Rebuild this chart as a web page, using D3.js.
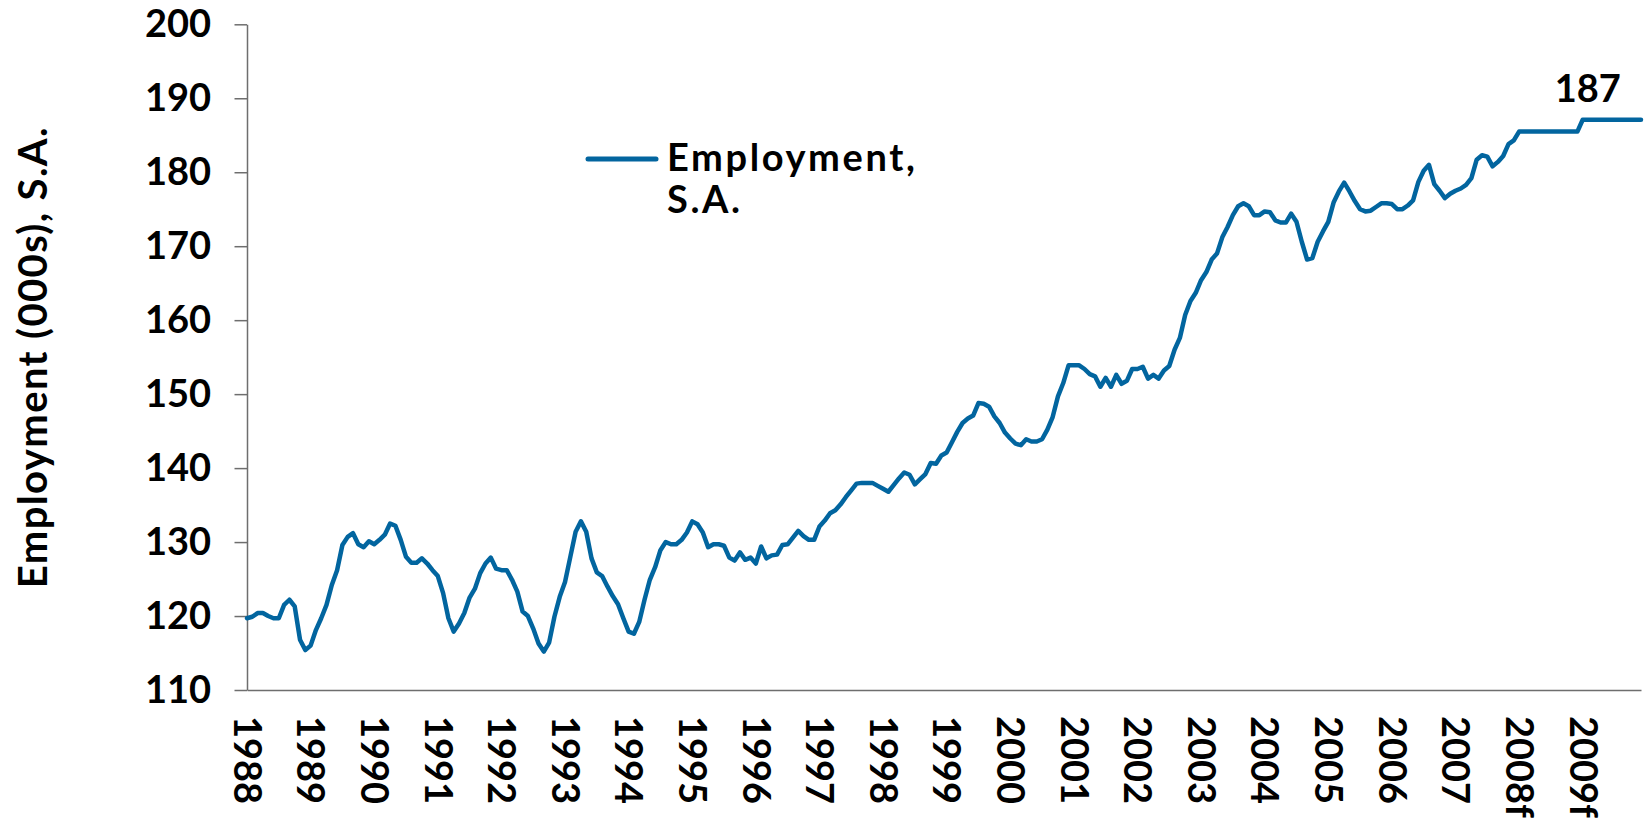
<!DOCTYPE html>
<html>
<head>
<meta charset="utf-8">
<script src="https://cdn.jsdelivr.net/npm/d3@7"></script>
<style>
    html, body { margin: 0; padding: 0; background: #fff; }
    svg { display: block; }
</style>
</head>
<body>
<div id="chart"></div>
<script>
// Monthly employment, seasonally adjusted (000s), Jan 1988 .. Dec 2009 (2008-2009 forecast)
const employment = [
    // 1988
    119.7, 119.9, 120.4, 120.4, 120.0, 119.7, 119.7, 121.5, 122.2, 121.3, 116.8, 115.4,
    // 1989
    116.0, 118.1, 119.7, 121.5, 124.2, 126.2, 129.6, 130.7, 131.2, 129.7, 129.3, 130.1,
    // 1990
    129.7, 130.3, 131.0, 132.5, 132.2, 130.3, 128.0, 127.2, 127.2, 127.8, 127.1, 126.2,
    // 1991
    125.4, 123.1, 119.7, 117.9, 119.0, 120.4, 122.5, 123.7, 125.8, 127.1, 127.9, 126.4,
    // 1992
    126.2, 126.2, 124.9, 123.3, 120.6, 120.0, 118.3, 116.3, 115.2, 116.4, 119.9, 122.6,
    // 1993
    124.6, 128.0, 131.4, 132.8, 131.4, 127.8, 125.9, 125.4, 124.0, 122.7, 121.6, 119.7,
    // 1994
    117.9, 117.6, 119.2, 122.2, 124.9, 126.6, 128.9, 130.0, 129.7, 129.7, 130.3, 131.3,
    // 1995
    132.8, 132.4, 131.3, 129.3, 129.7, 129.7, 129.5, 127.9, 127.5, 128.6, 127.6, 127.9,
    // 1996
    127.1, 129.4, 127.8, 128.2, 128.3, 129.6, 129.7, 130.6, 131.5, 130.8, 130.3, 130.3,
    // 1997
    132.1, 132.9, 133.9, 134.3, 135.1, 136.1, 137.0, 137.9, 138.0, 138.0, 138.0, 137.6,
    // 1998
    137.2, 136.8, 137.7, 138.6, 139.4, 139.1, 137.8, 138.5, 139.2, 140.7, 140.6, 141.7,
    // 1999
    142.1, 143.5, 144.9, 146.1, 146.7, 147.1, 148.8, 148.7, 148.3, 147.0, 146.1, 144.8,
    // 2000
    144.0, 143.3, 143.1, 143.9, 143.6, 143.6, 143.9, 145.2, 146.9, 149.7, 151.5, 153.9,
    // 2001
    153.9, 153.9, 153.4, 152.7, 152.4, 151.0, 152.2, 151.0, 152.6, 151.4, 151.8, 153.4,
    // 2002
    153.4, 153.7, 152.1, 152.6, 152.1, 153.2, 153.8, 156.0, 157.6, 160.7, 162.6, 163.7,
    // 2003
    165.4, 166.5, 168.2, 169.0, 171.2, 172.6, 174.2, 175.4, 175.8, 175.4, 174.2, 174.2,
    // 2004
    174.7, 174.6, 173.5, 173.2, 173.2, 174.4, 173.3, 170.6, 168.2, 168.4, 170.6, 172.0,
    // 2005
    173.3, 175.9, 177.4, 178.6, 177.4, 176.1, 175.0, 174.7, 174.8, 175.3, 175.8, 175.8,
    // 2006
    175.7, 175.0, 175.0, 175.5, 176.2, 178.7, 180.2, 181.0, 178.4, 177.5, 176.5, 177.1,
    // 2007
    177.5, 177.8, 178.3, 179.2, 181.7, 182.3, 182.1, 180.8, 181.4, 182.2, 183.8, 184.3,
    // 2008f
    185.5, 185.5, 185.5, 185.5, 185.5, 185.5, 185.5, 185.5, 185.5, 185.5, 185.5, 185.5,
    // 2009f
    187.1, 187.1, 187.1, 187.1, 187.1, 187.1, 187.1, 187.1, 187.1, 187.1, 187.1, 187.1
];

const yearLabels = ["1988", "1989", "1990", "1991", "1992", "1993", "1994", "1995",
    "1996", "1997", "1998", "1999", "2000", "2001", "2002", "2003", "2004", "2005",
    "2006", "2007", "2008f", "2009f"];

const yTicks = [110, 120, 130, 140, 150, 160, 170, 180, 190, 200];

const seriesName = ["Employment,", "S.A."];
const yTitle = "Employment (000s), S.A.";
const endLabel = "187";

function chart_employment(container){
    const font = "Lato, 'Open Sans', sans-serif";
    const lineColor = "#02659f";

    // Declare the chart dimensions and margins.
    const width = 1647;
    const height = 825;
    const marginTop = 24.3;
    const marginRight = 6;
    const marginBottom = 135;
    const marginLeft = 247;

    // Positional encodings: one category per month.
    const x = d3.scaleLinear()
        .domain([0, employment.length - 1])
        .range([marginLeft, width - marginRight]);

    const y = d3.scaleLinear()
        .domain([110, 200])
        .range([height - marginBottom, marginTop]);

    const svg = d3.select(container).append("svg")
        .attr("width", width)
        .attr("height", height)
        .attr("viewBox", [0, 0, width, height]);

    // vertical axis
    svg.append("g")
        .attr("transform", `translate(${marginLeft},0)`)
        .call(d3.axisLeft(y)
            .tickValues(yTicks)
            .tickSize(12.5)
            .tickSizeOuter(0)
            .tickPadding(23.5))
        .call(g => g.selectAll("line, path").attr("stroke", "#6e6e6e").attr("stroke-width", 1.5))
        .call(g => g.selectAll("text")
            .attr("fill", "#000")
            .style("font-family", font)
            .style("font-weight", 700)
            .style("font-size", "38px"));

    // horizontal axis, one label at each January
    const yearIdx = yearLabels.map((d, i) => i * 12);
    svg.append("g")
        .attr("transform", `translate(0,${height - marginBottom})`)
        .call(d3.axisBottom(x)
            .tickValues(yearIdx)
            .tickSize(0)
            .tickSizeOuter(0)
            .tickFormat((d, i) => yearLabels[i]))
        .call(g => g.select(".domain").attr("stroke", "#6e6e6e").attr("stroke-width", 1.5))
        .selectAll("text")
            .attr("fill", "#000")
            .style("font-family", font)
            .style("font-weight", 700)
            .style("font-size", "38px")
            .attr("text-anchor", "start")
            .attr("x", 26)
            .attr("y", 0)
            .attr("dy", "0.36em")
            .attr("transform", "rotate(90)");

    // y title
    svg.append("text")
        .attr("transform", `translate(47,${(marginTop + height - marginBottom) / 2}) rotate(-90)`)
        .attr("text-anchor", "middle")
        .style("font-family", font)
        .style("font-weight", 700)
        .style("font-size", "40px")
        .style("letter-spacing", "1.4px")
        .text(yTitle);

    // the line
    const line = d3.line()
        .x((d, i) => x(i))
        .y(d => y(d));

    svg.append("path")
        .datum(employment)
        .attr("fill", "none")
        .attr("stroke", lineColor)
        .attr("stroke-width", 4.5)
        .attr("stroke-linejoin", "round")
        .attr("stroke-linecap", "round")
        .attr("d", line);

    // label over the 2009 forecast
    const iLast = employment.length - 12;
    svg.append("text")
        .attr("x", x(iLast) + 5)
        .attr("y", y(employment[iLast]) - 18)
        .attr("text-anchor", "middle")
        .style("font-family", font)
        .style("font-weight", 700)
        .style("font-size", "38px")
        .text(endLabel);

    // legend
    const legend = svg.append("g");
    legend.append("line")
        .attr("x1", 588).attr("x2", 656)
        .attr("y1", 159).attr("y2", 159)
        .attr("stroke", lineColor)
        .attr("stroke-width", 5)
        .attr("stroke-linecap", "round");
    legend.selectAll("text")
        .data(seriesName)
        .join("text")
            .attr("x", 667)
            .attr("y", (d, i) => 171 + i * 42)
            .style("font-family", font)
            .style("font-weight", 700)
            .style("font-size", "38px")
            .style("letter-spacing", "2.6px")
            .text(d => d);
}

chart_employment("#chart");
</script>
</body>
</html>
